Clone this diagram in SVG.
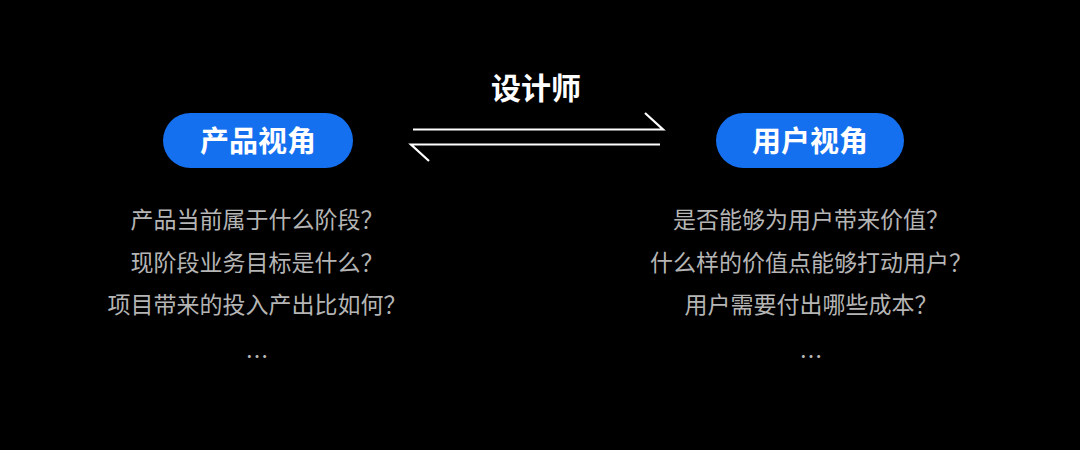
<svg xmlns="http://www.w3.org/2000/svg" width="1080" height="450" viewBox="0 0 1080 450">
<style>
.bg{fill:#000}
.pill{fill:#1570F0}
.pl{font-family:"Noto Sans CJK SC",sans-serif;font-weight:700;font-size:29px;fill:#fff;text-anchor:middle}
.title{font-family:"Noto Sans CJK SC",sans-serif;font-weight:700;font-size:30px;fill:#fff;text-anchor:middle}
.q{font-family:"Noto Sans CJK SC",sans-serif;font-weight:400;font-size:23px;fill:#b5b5b5;text-anchor:middle}
.ln{stroke:#fff;stroke-width:2.2;fill:none;stroke-linecap:butt}
</style>
<rect class="bg" x="0" y="0" width="1080" height="450"/>
<g id="title-designer">
<text class="title" x="536" y="99">设计师</text>
</g>
<g id="connectors">
<path class="ln" d="M413 129.5 H663 L645 113"/>
<path class="ln" d="M660 144.5 H411 L429 161"/>
</g>
<g id="node-product">
<rect class="pill" x="163" y="113" width="190" height="55" rx="27.5"/>
<text class="pl" x="258" y="152">产品视角</text>
</g>
<g id="node-user">
<rect class="pill" x="716" y="113" width="188" height="55" rx="27.5"/>
<text class="pl" x="810" y="152">用户视角</text>
</g>
<g id="list-product">
<text class="q" x="257" y="228">产品当前属于什么阶段？</text>
<text class="q" x="257" y="271">现阶段业务目标是什么？</text>
<text class="q" x="257" y="313">项目带来的投入产出比如何？</text>
<text class="q" x="257" y="365">…</text>
</g>
<g id="list-user">
<text class="q" x="811" y="228">是否能够为用户带来价值？</text>
<text class="q" x="811" y="271">什么样的价值点能够打动用户？</text>
<text class="q" x="811" y="313">用户需要付出哪些成本？</text>
<text class="q" x="811" y="365">…</text>
</g>
</svg>
